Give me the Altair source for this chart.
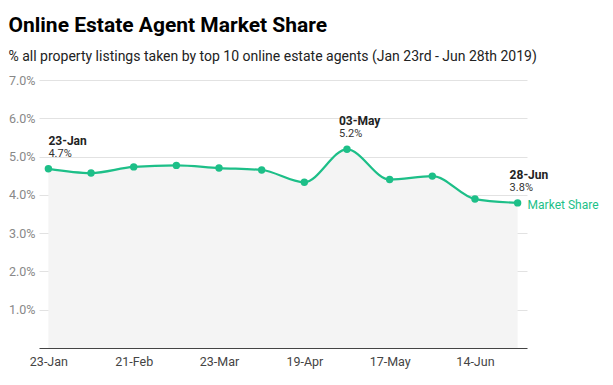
import altair as alt
import pandas as pd

dates = ["23-Jan", "06-Feb", "21-Feb", "08-Mar", "23-Mar", "05-Apr",
         "19-Apr", "03-May", "17-May", "31-May", "14-Jun", "28-Jun"]
share = [4.68, 4.57, 4.73, 4.77, 4.70, 4.65, 4.33, 5.19, 4.40, 4.49, 3.89, 3.79]
tick_labels = ["23-Jan", "21-Feb", "23-Mar", "19-Apr", "17-May", "14-Jun"]
annot_dates = ["23-Jan", "03-May", "28-Jun"]
series_name = "Market Share"

df = pd.DataFrame({"date": dates, "share": share})
df["pct"] = df["share"].map(lambda v: f"{v:.1f}%")

GREEN = "#1dbf88"
FONT = "Roboto"

x = alt.X("date:O", sort=dates,
          scale=alt.Scale(type="point", padding=0.22),
          axis=alt.Axis(values=tick_labels, title=None, labelAngle=0,
                        ticks=False, domainColor="#444", domainWidth=1.2,
                        labelColor="#444", labelFontSize=12.5, labelFont=FONT,
                        labelPadding=7, grid=False))
y = alt.Y("share:Q",
          scale=alt.Scale(domain=[0, 7], nice=False, zero=True),
          axis=alt.Axis(values=[1, 2, 3, 4, 5, 6, 7], labelExpr="format(datum.value, '.1f') + '%'",
                        title=None, ticks=False, domain=False,
                        gridColor="#e2e2e2", gridWidth=1,
                        labelColor="#888", labelFontSize=12.5, labelFont=FONT,
                        labelPadding=4))

base = alt.Chart(df)

area = base.mark_area(color="#f4f4f4", interpolate="monotone").encode(x=x, y=y)
line = base.mark_line(color=GREEN, strokeWidth=2.2, interpolate="monotone").encode(x=x, y=y)
pts = base.mark_circle(color=GREEN, size=55, opacity=1).encode(x=x, y=y)

first = base.transform_filter(alt.datum.date == annot_dates[0])
others = base.transform_filter(alt.FieldOneOfPredicate(field="date", oneOf=annot_dates[1:]))

t1a = first.mark_text(align="left", baseline="alphabetic", dx=0, dy=-24, fontSize=12,
                      fontWeight="bold", font=FONT, color="#222").encode(x=x, y=y, text="date:N")
t1b = first.mark_text(align="left", baseline="alphabetic", dx=0, dy=-12, fontSize=11,
                      font=FONT, color="#333").encode(x=x, y=y, text="pct:N")
t2a = others.mark_text(align="left", baseline="alphabetic", dx=-8, dy=-24, fontSize=12,
                       fontWeight="bold", font=FONT, color="#222").encode(x=x, y=y, text="date:N")
t2b = others.mark_text(align="left", baseline="alphabetic", dx=-8, dy=-12, fontSize=11,
                       font=FONT, color="#333").encode(x=x, y=y, text="pct:N")

last = base.transform_filter(alt.datum.date == dates[-1])
series_lbl = last.mark_text(align="left", baseline="middle", dx=10, dy=2, fontSize=12,
                            font=FONT, color=GREEN).encode(x=x, y=y, text=alt.value(series_name))

chart = alt.layer(area, line, pts, t1a, t1b, t2a, t2b, series_lbl).properties(
    width=488, height=268,
    title=alt.TitleParams(
        text="Online Estate Agent Market Share",
        subtitle="% all property listings taken by top 10 online estate agents (Jan 23rd - Jun 28th 2019)",
        anchor="start", frame="bounds", font=FONT, fontSize=21, fontWeight="bold", color="#000",
        subtitleFont=FONT, subtitleFontSize=14, subtitleColor="#222",
        subtitlePadding=14, offset=10),
    autosize=alt.AutoSizeParams(type="none"),
    padding={"left": 31, "top": 72, "right": 78, "bottom": 30},
).configure_view(stroke=None)

chart.save("out.html", embed_options={"renderer": "svg", "actions": False})
